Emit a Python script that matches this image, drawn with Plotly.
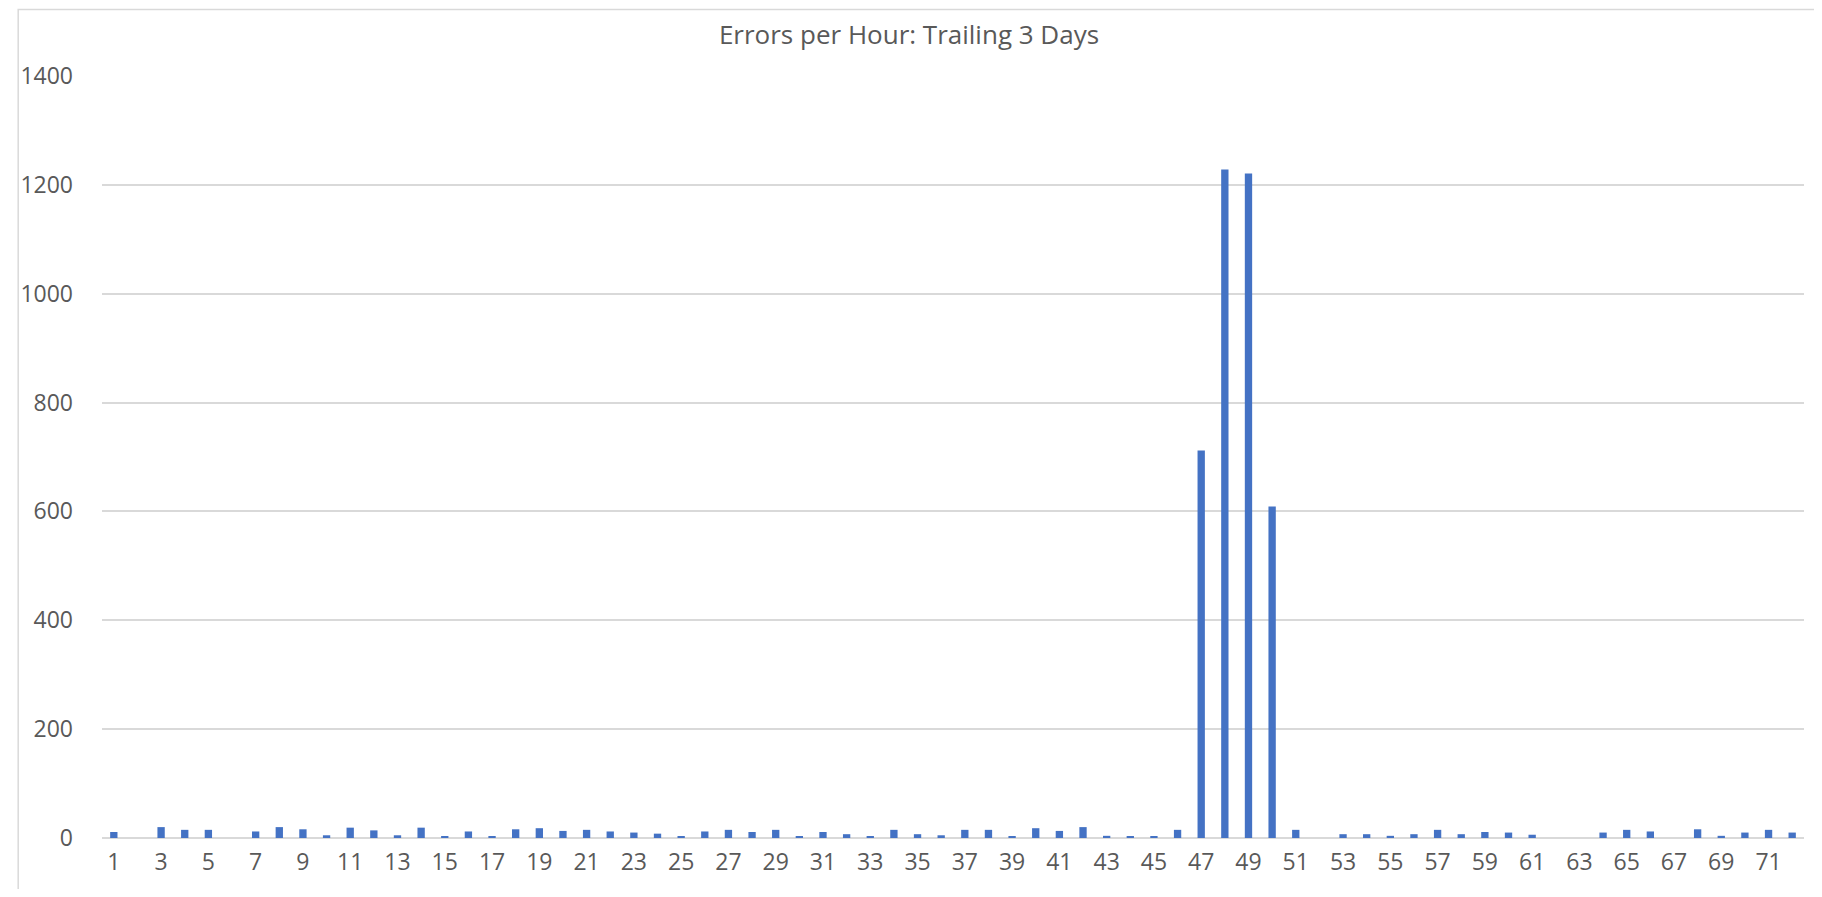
import plotly.graph_objects as go

hours = list(range(1, 73))
errors = [
    11, 0, 20, 15, 15, 0, 12, 20, 16, 5,
    19, 14, 5, 19, 2, 12, 3, 16, 18, 13,
    15, 12, 10, 8, 3, 12, 15, 11, 15, 3,
    11, 7, 3, 15, 7, 5, 15, 15, 3, 18,
    13, 20, 4, 2, 2, 15, 712, 1228, 1221, 609,
    15, 0, 7, 7, 4, 7, 15, 7, 11, 10,
    6, 0, 0, 10, 15, 12, 0, 16, 4, 10,
    15, 10,
]
tick_labels = [str(h) for h in hours if h % 2 == 1]
tick_vals = [h for h in hours if h % 2 == 1]
title_text = "Errors per Hour: Trailing 3 Days"

W, H = 1812, 881
L, R, T, B = 85, 16, 68, 43
PW, PH = W - L - R, H - T - B

fig = go.Figure(
    go.Bar(x=hours, y=errors, marker=dict(color="#4472C4", line=dict(width=0)), width=0.31)
)

font_fam = "Open Sans, Lato, sans-serif"
fig.update_layout(
    width=W,
    height=H,
    paper_bgcolor="white",
    plot_bgcolor="white",
    margin=dict(l=L, r=R, t=T, b=B),
    title=dict(text=title_text, x=901 / W, xref="container", xanchor="center",
               y=1 - 26.5 / H, yanchor="middle",
               font=dict(family=font_fam, size=26, color="#595959")),
    showlegend=False,
    xaxis=dict(range=[0.5, 72.5], tickmode="array", tickvals=tick_vals, ticktext=tick_labels,
               showgrid=False, zeroline=False, showline=False, ticks="",
               ticklabelstandoff=8,
               tickfont=dict(family=font_fam, size=23, color="#595959")),
    yaxis=dict(range=[0, 1400], dtick=200, showgrid=True, gridcolor="#D9D9D9", gridwidth=1.5,
               zeroline=True, zerolinecolor="#D9D9D9", zerolinewidth=1.5, showline=False,
               ticks="", ticklabelstandoff=28,
               tickfont=dict(family=font_fam, size=23, color="#595959")),
    shapes=[dict(type="rect", xref="paper", yref="paper",
                 x0=(0.75 - L) / PW, x1=(1811 - L) / PW,
                 y0=-(B + 20) / PH, y1=1 + (T - 0.75) / PH,
                 line=dict(color="#D9D9D9", width=1.5), fillcolor="rgba(0,0,0,0)", layer="below")],
)

fig.write_html("out.html")
